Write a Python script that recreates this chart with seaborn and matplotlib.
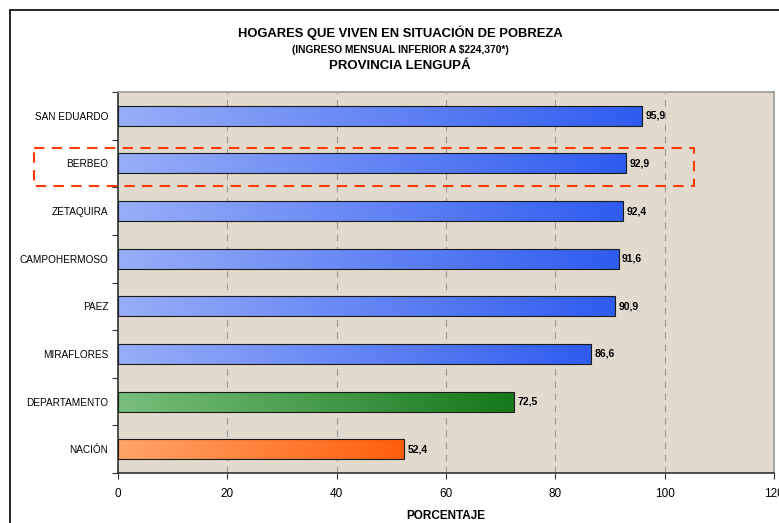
import numpy as np
import pandas as pd
import matplotlib.pyplot as plt
import seaborn as sns
from matplotlib.colors import LinearSegmentedColormap
from matplotlib.patches import Rectangle
from matplotlib.lines import Line2D

municipios = ["SAN EDUARDO", "BERBEO", "ZETAQUIRA", "CAMPOHERMOSO", "PAEZ",
              "MIRAFLORES", "DEPARTAMENTO", "NACIÓN"]
porcentaje = [95.9, 92.9, 92.4, 91.6, 90.9, 86.6, 72.5, 52.4]
etiquetas = ["95,9", "92,9", "92,4", "91,6", "90,9", "86,6", "72,5", "52,4"]
colores = ["#5a7cf2"] * 6 + ["#4a9a4a", "#ff7a30"]
gradientes = [("#98aef8", "#2f5cf0")] * 6 + [("#78bf7c", "#16781a"), ("#ffa468", "#ff5e0c")]
xticks = [0, 20, 40, 60, 80, 100, 120]

sns.set_style("white")
plt.rcParams['font.family'] = ['Liberation Sans', 'DejaVu Sans']
plt.rcParams['text.color'] = 'black'
plt.rcParams['axes.labelcolor'] = 'black'
plt.rcParams['xtick.color'] = 'black'
plt.rcParams['ytick.color'] = 'black'

df = pd.DataFrame({"municipio": municipios, "porcentaje": porcentaje})

fig = plt.figure(figsize=(7.79, 5.23), dpi=100)
ax = fig.add_axes([118/779, 1 - 473/523, (774-118)/779, (473-92)/523])
ax.set_facecolor("#e2dacd")

sns.barplot(data=df, y="municipio", x="porcentaje", hue="municipio", palette=colores,
            legend=False, width=0.42, edgecolor="#1a1a1a", linewidth=0.8, ax=ax, zorder=3)

# gradient fill on each bar
for p, (c1, c2) in zip(ax.patches, gradientes):
    cmap = LinearSegmentedColormap.from_list("g", [c1, c2])
    x0, y0 = p.get_x(), p.get_y()
    w, h = p.get_width(), p.get_height()
    im = ax.imshow(np.linspace(0, 1, 256).reshape(1, -1), cmap=cmap, aspect="auto",
                   extent=[x0, x0 + w, y0 + h, y0], zorder=3.5, interpolation="bilinear")
    im.set_clip_path(p)
    p.set_facecolor("none")
    p.set_zorder(4)

for i, (v, t) in enumerate(zip(porcentaje, etiquetas)):
    ax.text(v + 0.6, i, t, va="center", ha="left", fontsize=7.5, fontweight="bold", zorder=5)

ax.set_xlim(0, 120)
ax.set_ylim(len(municipios) - 0.5, -0.5)
ax.set_xticks(xticks)
ax.set_xticklabels([str(x) for x in xticks], fontsize=8.5)
ax.set_yticks(range(len(municipios)))
ax.set_yticklabels(municipios, fontsize=7.2)
ax.tick_params(axis="y", which="major", left=False, length=0, pad=7)
ax.set_yticks(np.arange(-0.5, len(municipios), 1), minor=True)
ax.tick_params(axis="y", which="minor", left=True, length=4, width=0.8, color="#333333",
               direction="out")
ax.tick_params(axis="x", bottom=True, length=4, width=0.8, color="#333333", direction="out", pad=7)
ax.set_xlabel("PORCENTAJE", fontsize=8.5, fontweight="bold", labelpad=7)
ax.set_ylabel("")

for xv in xticks[1:-1]:
    ax.axvline(xv, color="#999999", linestyle=(0, (6, 5)), linewidth=0.8, zorder=1)

for s in ["top", "right"]:
    ax.spines[s].set_color("#9a9a9a")
    ax.spines[s].set_linewidth(1.2)
for s in ["left", "bottom"]:
    ax.spines[s].set_color("#333333")
    ax.spines[s].set_linewidth(1.2)

# highlight box for BERBEO
box = Rectangle((-15.3, 1 - 0.33), 120.6, 0.8, transform=ax.transData, fill=False,
                edgecolor="#ff3b0a", linestyle=(0, (5, 3.5)), linewidth=1.5,
                clip_on=False, zorder=6)
ax.add_patch(box)

fig.text(400/779, 1 - 33/523, "HOGARES QUE VIVEN EN SITUACIÓN DE POBREZA",
         ha="center", va="center", fontsize=9.4, fontweight="bold")
fig.text(400/779, 1 - 50/523, "(INGRESO MENSUAL INFERIOR A $224,370*)",
         ha="center", va="center", fontsize=7.4, fontweight="bold")
fig.text(400/779, 1 - 66/523, "PROVINCIA LENGUPÁ",
         ha="center", va="center", fontsize=9.5, fontweight="bold")

# outer frame
fig.add_artist(Line2D([10/779, 10/779], [0, 1 - 10/523], color="black", linewidth=1.2,
                      transform=fig.transFigure))
fig.add_artist(Line2D([10/779, 1], [1 - 10/523, 1 - 10/523], color="black", linewidth=1.2,
                      transform=fig.transFigure))

fig.savefig("out.png", dpi=100)
